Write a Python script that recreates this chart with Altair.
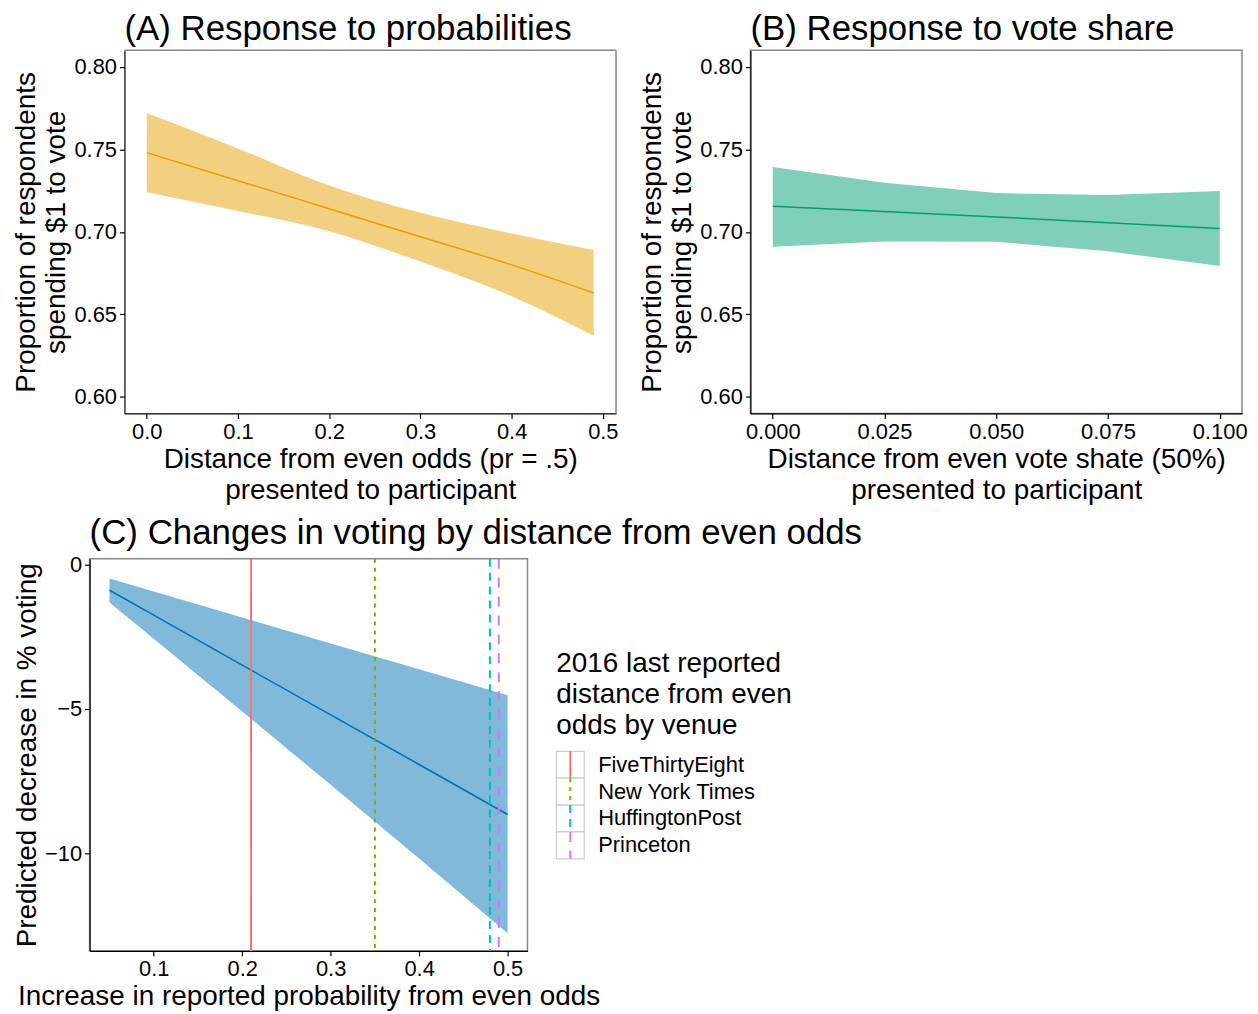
import altair as alt
import pandas as pd

FONT = "Liberation Sans"

# ---------------- Panel A: response to probabilities ----------------
A_x = [0.0, 0.1, 0.2, 0.3, 0.4, 0.49]
A_fit = [0.748, 0.731, 0.714, 0.697, 0.680, 0.663]
A_lo = [0.724, 0.7127, 0.7004, 0.682, 0.661, 0.637]
A_hi = [0.772, 0.7505, 0.728, 0.7115, 0.699, 0.689]

# ---------------- Panel B: response to vote share ----------------
B_x = [0.0, 0.025, 0.05, 0.075, 0.1]
B_fit = [0.7155, 0.7123, 0.709, 0.7055, 0.702]
B_lo = [0.6909, 0.6942, 0.694, 0.6883, 0.6793]
B_hi = [0.7393, 0.7298, 0.7235, 0.7223, 0.7248]

# ---------------- Panel C: predicted change in voting ----------------
C_x = [0.05, 0.1, 0.2, 0.3, 0.4, 0.5]
C_fit = [-0.89, -1.75, -3.48, -5.20, -6.92, -8.65]
C_lo = [-1.31, -2.57, -5.09, -7.62, -10.17, -12.76]
C_hi = [-0.48, -0.93, -1.83, -2.73, -3.62, -4.52]

venues = ["FiveThirtyEight", "New York Times", "HuffingtonPost", "Princeton"]
venue_dist = [0.21, 0.35, 0.48, 0.49]
venue_colors = ["#F8766D", "#7CAE00", "#00BFC4", "#C77CFF"]
venue_dashes = [[1, 0], [4, 5], [8, 6], [10, 9]]
legend_title = ["2016 last reported", "distance from even", "odds by venue"]

dfA = pd.DataFrame({"x": A_x, "fit": A_fit, "lo": A_lo, "hi": A_hi})
dfB = pd.DataFrame({"x": B_x, "fit": B_fit, "lo": B_lo, "hi": B_hi})
dfC = pd.DataFrame({"x": C_x, "fit": C_fit, "lo": C_lo, "hi": C_hi})
dfV = pd.DataFrame({"venue": venues, "dist": venue_dist})
dfL = pd.DataFrame({"venue": venues, "idx": list(range(len(venues)))})
dfL["idx1"] = dfL["idx"] + 1
dfL["mid"] = dfL["idx"] + 0.5
dfT = pd.DataFrame({"t": ["\n".join(legend_title)]})
dfOne = pd.DataFrame({"k": [0]})

# panel A is drawn SHIFT px to the right inside its view so that panel C
# (whose plot starts further left) can share the same column origin
SHIFT = 35
WA, HA = 494, 365
WC, HC = 440, 394


def panel(df, xdom, ydom, xvals, xfmt, yvals, yfmt, fill, line, xtitle, ytitle, interp,
          xrange=None, yoffset=0):
    xs = alt.Scale(domain=xdom, nice=False, zero=False)
    if xrange is not None:
        xs = alt.Scale(domain=xdom, nice=False, zero=False, range=xrange)
    ys = alt.Scale(domain=ydom, nice=False, zero=False)
    xax = alt.Axis(values=xvals, format=xfmt, title=xtitle)
    yax = alt.Axis(values=yvals, format=yfmt, title=ytitle)
    if yoffset:
        yax = alt.Axis(values=yvals, format=yfmt, title=ytitle, offset=yoffset)
    band = alt.Chart(df).mark_area(color=fill, opacity=1, interpolate=interp).encode(
        x=alt.X("x:Q", scale=xs, axis=xax),
        y=alt.Y("lo:Q", scale=ys, axis=yax),
        y2="hi:Q",
    )
    ln = alt.Chart(df).mark_line(color=line, strokeWidth=1.5, interpolate=interp).encode(
        x=alt.X("x:Q", scale=xs),
        y=alt.Y("fit:Q", scale=ys),
    )
    return band, ln, xs, ys


def tparams(dx=0):
    return dict(anchor="start", frame="group", fontSize=35, font=FONT,
                fontWeight="normal", color="black", offset=3, dx=dx)


bandA, lineA, _, _ = panel(dfA, [-0.0245, 0.5145], [0.59, 0.81], [0, 0.1, 0.2, 0.3, 0.4, 0.5], ".1f",
                           [0.6, 0.65, 0.7, 0.75, 0.8], ".2f", "#F3CF80", "#E69F00",
                           ["Distance from even odds (pr = .5)", "presented to participant"],
                           ["Proportion of respondents", "spending $1 to vote"], "monotone",
                           xrange=[SHIFT, SHIFT + WA], yoffset=-SHIFT)
borderA_top = alt.Chart(dfOne).mark_rule(color="#888888", strokeWidth=1.5).encode(
    x=alt.value(SHIFT), x2=alt.value(SHIFT + WA), y=alt.value(0))
borderA_right = alt.Chart(dfOne).mark_rule(color="#888888", strokeWidth=1.5).encode(
    x=alt.value(SHIFT + WA), y=alt.value(0), y2=alt.value(HA))
chartA = alt.layer(bandA, lineA, borderA_top, borderA_right).properties(
    width=WA + SHIFT, height=HA,
    view=alt.ViewBackground(stroke="transparent"),
    title=alt.TitleParams("(A) Response to probabilities", **tparams(SHIFT)))

bandB, lineB, _, _ = panel(dfB, [-0.005, 0.105], [0.59, 0.81], [0, 0.025, 0.05, 0.075, 0.1], ".3f",
                           [0.6, 0.65, 0.7, 0.75, 0.8], ".2f", "#80CFB9", "#009E73",
                           ["Distance from even vote shate (50%)", "presented to participant"],
                           ["Proportion of respondents", "spending $1 to vote"], "linear")
chartB = alt.layer(bandB, lineB).properties(
    width=WA, height=HA,
    title=alt.TitleParams("(B) Response to vote share", **tparams()))

bandC, lineC, xsC, ysC = panel(dfC, [0.0275, 0.5225], [-13.37, 0.2], [0.1, 0.2, 0.3, 0.4, 0.5], ".1f",
                               [0, -5, -10], "d", "#80B9D9", "#0072B2",
                               "Increase in reported probability from even odds",
                               "Predicted decrease in % voting", "linear")

color_enc = alt.Color("venue:N", scale=alt.Scale(domain=venues, range=venue_colors), legend=None)
dash_enc = alt.StrokeDash("venue:N", scale=alt.Scale(domain=venues, range=venue_dashes), legend=None)

vrules = alt.Chart(dfV).mark_rule(strokeWidth=2).encode(
    x=alt.X("dist:Q", scale=xsC),
    color=color_enc,
    strokeDash=dash_enc,
)
mainC = alt.layer(bandC, lineC, vrules)

ly = alt.Scale(domain=[0, 4], range=[193.5, 301.5], nice=False, zero=False)
key_box = alt.Chart(dfL).mark_rect(fill="white", stroke="#CCCCCC", strokeWidth=1.2).encode(
    x=alt.value(469), x2=alt.value(497),
    y=alt.Y("idx:Q", scale=ly, axis=None), y2="idx1:Q",
)
key_line = alt.Chart(dfL).mark_rule(strokeWidth=2).encode(
    x=alt.value(483),
    y=alt.Y("idx:Q", scale=ly, axis=None), y2="idx1:Q",
    color=color_enc, strokeDash=dash_enc,
)
key_text = alt.Chart(dfL).mark_text(align="left", baseline="middle", fontSize=22, font=FONT,
                                    color="black").encode(
    x=alt.value(511),
    y=alt.Y("mid:Q", scale=ly, axis=None),
    text="venue:N",
)
key_title = alt.Chart(dfT).mark_text(align="left", baseline="top", fontSize=28, font=FONT,
                                     color="black", lineBreak="\n", lineHeight=31).encode(
    x=alt.value(469), y=alt.value(92), text="t:N")
legendC = alt.layer(key_box, key_line, key_text, key_title)

chartC = alt.layer(mainC, legendC).resolve_scale(x="independent", y="independent").properties(
    width=WC, height=HC,
    title=alt.TitleParams("(C) Changes in voting by distance from even odds", **tparams()))

top = alt.hconcat(chartA, chartB, spacing=18)
chart = alt.vconcat(top, chartC, spacing=10).properties(
    padding={"top": 0, "left": 3, "right": 2, "bottom": 0}
).configure(
    font=FONT
).configure_axis(
    labelFont=FONT, titleFont=FONT, labelFontSize=22, titleFontSize=28,
    labelColor="black", titleColor="black", titleFontWeight="normal",
    grid=False, tickSize=5, tickColor="black", domainColor="black", tickWidth=1.2,
    domainWidth=1.2, labelPadding=3, titlePadding=3, titleLineHeight=31,
    labelFlush=False, labelOverlap=False,
).configure_view(stroke="#888888", strokeWidth=1.5)

chart.save("out.html", embed_options={"renderer": "svg", "actions": False})
